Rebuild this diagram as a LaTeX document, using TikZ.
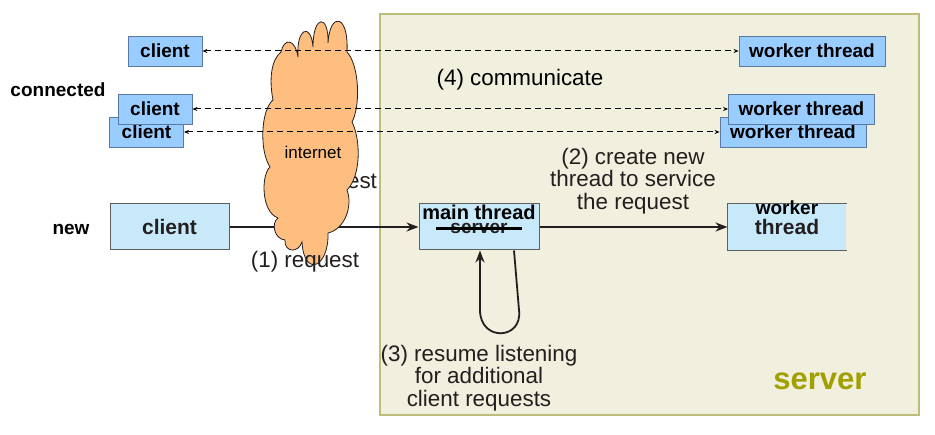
\documentclass[tikz,border=0pt]{standalone}
\usepackage{fontspec}
\setmainfont{Liberation Sans}
\usetikzlibrary{arrows.meta}

\definecolor{boxblue}{RGB}{153,204,255}
\definecolor{boxedge}{RGB}{90,120,160}
\definecolor{paleblue}{RGB}{200,233,249}
\definecolor{paleedge}{RGB}{95,95,95}
\definecolor{srvfill}{RGB}{241,239,221}
\definecolor{srvedge}{RGB}{190,190,120}
\definecolor{srvtext}{RGB}{160,160,0}
\definecolor{cloudfill}{RGB}{253,190,128}
\definecolor{ink}{RGB}{35,31,32}

\tikzset{
  conn/.style={draw=boxedge, fill=boxblue, inner sep=0pt, minimum height=30pt,
    line width=0.8pt, font=\fontsize{19}{21}\selectfont\bfseries},
  newbox/.style={fill=paleblue, inner sep=0pt, minimum height=46pt, line width=1pt},
  lbl/.style={font=\fontsize{22.4}{22.5}\selectfont, text=ink, align=center},
  link/.style={<->, >={Stealth[length=5pt,width=4pt]}, dash pattern=on 6pt off 4pt, line width=1pt},
  flow/.style={-{Stealth[length=12pt,width=9pt]}, draw=ink, line width=1.8pt}
}

\begin{document}
\begin{tikzpicture}[x=1pt,y=-1pt]
  \useasboundingbox (0,0) rectangle (935,435);

  % Server area
  \draw[srvedge, fill=srvfill, line width=1.5pt] (380,14) rectangle (919,415);
  \node[font=\fontsize{31}{31}\selectfont\bfseries, text=srvtext] (srvlbl) at (820,381) {server};

  % Connected clients (back one first)
  \node[conn, minimum width=74pt] (c3) at (146.5,132) {client};
  \node[conn, minimum width=74pt] (c2) at (155,109) {client};
  \node[conn, minimum width=74pt] (c1) at (165,51) {client};
  \node[font=\fontsize{19}{21}\selectfont\bfseries] (connlbl) at (58,90) {connected};

  % Worker threads
  \node[conn, minimum width=146pt] (w3) at (793,132) {worker thread};
  \node[conn, minimum width=146pt] (w2) at (801.5,109) {worker thread};
  \node[conn, minimum width=146pt] (w1) at (812,51) {worker thread};

  % New client and main thread
  \node[font=\fontsize{19}{21}\selectfont\bfseries] (newlbl) at (71,229) {new};
  \node[newbox, draw=paleedge, minimum width=119pt, text=ink,
    font=\fontsize{21}{21}\selectfont\bfseries] (nc) at (169.5,227) {client};
  \node[newbox, draw=paleedge, minimum width=120pt] (mt) at (479,227) {};
  \node[font=\fontsize{19}{19}\selectfont\bfseries, text=ink, inner xsep=14pt] (old) at (479,228.5) {server};
  \draw[line width=3pt] (old.west) -- (old.east);
  \node[font=\fontsize{20}{20}\selectfont\bfseries] (mtlbl) at (479,212) {main thread};

  % New worker (open on the right)
  \node[newbox, minimum width=118pt] (nw) at (787,227) {};
  \draw[paleedge, line width=1pt] (nw.north east) -- (nw.north west) -- (nw.south west) -- (nw.south east);
  \node[font=\fontsize{21}{21}\selectfont\bfseries, text=ink] (nwthr) at (787,227) {thread};
  \node[font=\fontsize{19}{19}\selectfont\bfseries] (nwlbl) at (787,208) {worker};

  % Request goes under the cloud
  \node[lbl] (est) at (362,181) {est};
  \draw[flow] (nc) -- (mt);

  % Internet cloud
  \filldraw[draw=ink, fill=cloudfill, line width=0.8pt] (281,52)
    .. controls (284,38) and (295,38) .. (298,57)
    .. controls (296,28) and (311,22) .. (313,47)
    .. controls (313,14) and (329,14) .. (328,43)
    .. controls (330,11) and (349,14) .. (347,52)
    .. controls (359,65) and (361,105) .. (352,122)
    .. controls (361,140) and (361,176) .. (347,190)
    .. controls (353,206) and (345,229) .. (328,233)
    .. controls (329,268) and (304,278) .. (302,242)
    .. controls (298,254) and (284,252) .. (285,240)
    .. controls (274,239) and (271,223) .. (278,218)
    .. controls (261,212) and (261,175) .. (270,167)
    .. controls (259,150) and (261,110) .. (273,100)
    .. controls (269,80) and (271,60) .. (281,52) -- cycle;
  \node[font=\fontsize{17}{17}\selectfont] (netlbl) at (313,152) {internet};

  % Dashed links clients <-> workers
  \foreach \c/\w in {c1/w1,c2/w2,c3/w3}
    \draw[link] (\c) -- (\w);

  % Create and resume
  \draw[flow] (mt) -- (nw);
  \draw[flow] ([xshift=35pt]mt.south) -- (519,310) .. controls (523,340) and (480,342) .. (480,310) -- ([xshift=1pt]mt.south);

  % Step labels
  \node[lbl, text=black] (comm) at (520,80) {(4) communicate};
  \node[lbl] (req) at (305,262) {(1) request};
  \node[lbl] (create) at (633,181) {(2) create new\\thread to service\\the request};
  \node[lbl] (resume) at (479,378) {(3) resume listening\\for additional\\client requests};

\end{tikzpicture}
\end{document}
